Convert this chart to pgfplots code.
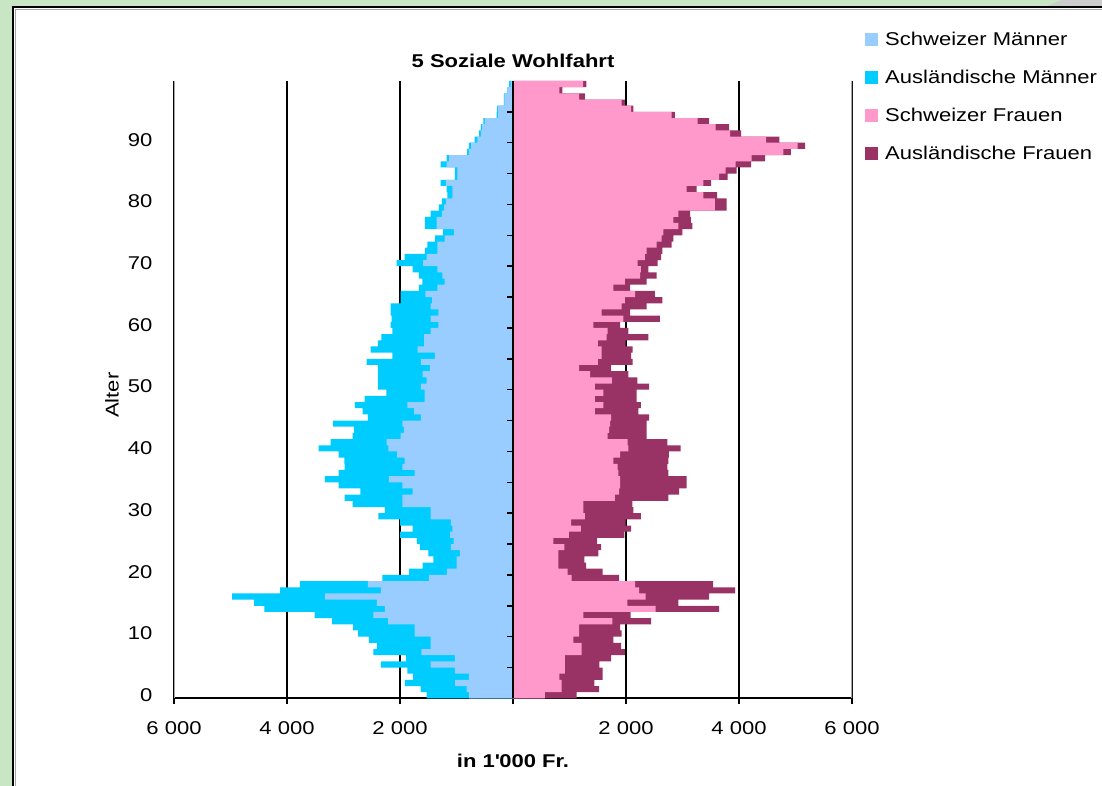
\documentclass[border=0pt]{standalone}
\usepackage{fontspec}
\setmainfont{Liberation Sans}[FakeStretch=1.19]
\usepackage{pgfplots}
\usepackage{pgfplotstable}
\pgfplotsset{compat=1.18}
\definecolor{chm}{HTML}{99CCFF}
\definecolor{ahm}{HTML}{00CCFF}
\definecolor{chf}{HTML}{FF99CC}
\definecolor{ahf}{HTML}{993366}
\definecolor{bggreen}{HTML}{C8E6C4}
\newcommand\fs{\fontsize{18.5}{22}\selectfont}

% age, Swiss men, men total (Swiss+foreign), Swiss women, women total
\pgfplotstableread{
age ms mt ws wt
0 780 1530 566 1127
1 820 1635 861 1522
2 1025 1915 861 1440
3 780 1770 820 1587
4 1030 1870 920 1587
5 1460 2340 920 1528
6 1030 1890 920 1735
7 1620 2470 1215 1982
8 1460 2410 1215 1912
9 1460 2550 1068 1776
10 1740 2740 1168 1923
11 1740 2830 1168 1894
12 2210 3200 1758 2443
13 2470 3510 1245 2083
14 2270 4400 2525 3646
15 2410 4580 2024 2926
16 3330 4970 2348 3469
17 2340 4120 2230 3929
18 2570 3770 2160 3540
19 1490 2310 1038 1876
20 1170 1840 968 1587
21 1000 1600 802 1292
22 1000 1410 802 1263
23 940 1500 802 1510
24 1100 1650 908 1558
25 1050 1700 714 1490
26 1115 2000 990 1970
27 1075 1775 1200 2090
28 1100 2000 1027 1994
29 1460 2385 1274 2265
30 1460 2270 1245 2130
31 1960 2840 1245 2112
32 1960 2980 1805 2750
33 1775 2700 1876 2938
34 1960 3085 1894 3074
35 2195 3330 1894 3074
36 1740 3085 1865 2750
37 1960 2980 1853 2730
38 1920 2985 1776 2750
39 2050 3085 1894 2760
40 2205 3440 2040 2968
41 2235 3230 2030 2730
42 1990 2840 1676 2366
43 1930 2810 1700 2366
44 1960 3190 1717 2366
45 1630 2570 1735 2407
46 1750 2660 1451 2218
47 1870 2800 1600 2265
48 1565 2625 1451 2189
49 1565 2240 1600 2189
50 1630 2390 1451 2407
51 1530 2390 1750 2200
52 1600 2390 1363 2041
53 1470 2390 1168 1735
54 1630 2590 1500 2118
55 1385 2135 1570 2090
56 1690 2520 1570 2118
57 1575 2390 1500 1994
58 1575 2330 1658 2395
59 1460 2135 1676 2041
60 1320 2165 1422 1894
61 1460 2150 1953 2600
62 1320 2165 1570 2071
63 1460 2165 1923 2366
64 1430 1990 1982 2643
65 1550 1990 2160 2513
66 1340 1665 1776 2071
67 1210 1605 1982 2366
68 1250 1665 2248 2543
69 1340 1775 2265 2395
70 1590 2060 2206 2560
71 1530 1920 2336 2620
72 1340 1560 2366 2643
73 1340 1515 2543 2808
74 1210 1380 2630 2838
75 1045 1235 2660 2997
76 1350 1560 2926 3174
77 1350 1560 2838 3150
78 1260 1460 2926 3133
79 1220 1310 3574 3782
80 1190 1260 3574 3782
81 1075 1160 3369 3611
82 1075 1175 3074 3251
83 1190 1280 3369 3505
84 985 1030 3646 3800
85 985 1030 3764 3959
86 1175 1280 3941 4213
87 1130 1175 4224 4460
88 780 810 4785 4920
89 740 780 5039 5168
90 630 680 4478 4714
91 570 600 3841 4036
92 545 570 3587 3823
93 500 525 3269 3469
94 265 290 2808 2867
95 270 280 2089 2130
96 155 160 1923 1982
97 155 160 1168 1274
98 95 100 820 873
99 40 70 1240 1300
}\data

\begin{document}
\begin{tikzpicture}[x=1pt,y=1pt]
\useasboundingbox (0,0) rectangle (1102,786);
\fill[bggreen] (0,0) rectangle (1102,786);
\fill[gray!40] (1045,779) -- (1062,786) -- (1102,786) -- (1102,779) -- cycle;
\fill[white] (13,0) rectangle (1102,779);
\draw[black, line width=2pt] (13,0) -- (13,779) -- (1102,779);
\draw[gray!70, line width=1pt] (15.5,0) -- (15.5,776.5) -- (1102,776.5);

\begin{axis}[
  at={(174pt,87.6pt)}, anchor=south west,
  width=678pt, height=617.4pt, scale only axis,
  xmin=-6000, xmax=6000, ymin=-0.5, ymax=99.5,
  bar width=1,
  axis x line*=bottom, axis y line*=left,
  x axis line style={-, black, line width=1.8pt},
  y axis line style={draw=none},
  xtick={-6000,-4000,-2000,0,2000,4000,6000},
  xticklabels={6 000,4 000,2 000,,2 000,4 000,6 000},
  ytick={0,10,...,90},
  /pgf/number format/assume math mode=true,
  tick align=outside, major tick length=6pt,
  xtick style={black, line width=1.5pt},
  ytick style={draw=none},
  xmajorgrids=true,
  grid style={black, line width=1.8pt},
  tick label style={font=\fs},
  yticklabel style={xshift=-12pt},
  xticklabel style={yshift=-14pt},
  title={\bfseries 5 Soziale Wohlfahrt},
  title style={font=\fs, at={(0.5,1)}, anchor=base, yshift=7pt},
  xlabel={\bfseries in 1\textquotesingle000 Fr.},
  xlabel style={font=\fs, at={(0.5,0)}, anchor=base, yshift=-69pt},
  ylabel={Alter},
  ylabel style={font=\fs, at={(rel axis cs:0,0.491)}, rotate=0, anchor=center, yshift=62pt},
  legend style={at={(1.0192,1.0791)}, anchor=north west, draw=none, fill=none,
    font=\fs, row sep=23pt, column sep=7pt, inner sep=0pt,
    nodes={inner sep=0pt, anchor=west}},
  legend cell align=left,
  legend image code/.code={\fill[#1] (0pt,-6.5pt) rectangle (13pt,6.5pt);},
]
\addplot[xbar, bar shift=0pt, fill=ahm, draw=none, forget plot] table[y=age, x expr=-\thisrow{mt}]{\data};
\addplot[xbar, bar shift=0pt, fill=chm, draw=none, forget plot] table[y=age, x expr=-\thisrow{ms}]{\data};
\addplot[xbar, bar shift=0pt, fill=ahf, draw=none, forget plot] table[y=age, x=wt]{\data};
\addplot[xbar, bar shift=0pt, fill=chf, draw=none, forget plot] table[y=age, x=ws]{\data};

\addlegendimage{fill=chm, draw=none}
\addlegendentry{Schweizer Männer}
\addlegendimage{fill=ahm, draw=none}
\addlegendentry{Ausländische Männer}
\addlegendimage{fill=chf, draw=none}
\addlegendentry{Schweizer Frauen}
\addlegendimage{fill=ahf, draw=none}
\addlegendentry{Ausländische Frauen}

\draw[gray!70, line width=1.8pt] (axis cs:-6000,-0.5) -- (axis cs:-6000,99.5);
\draw[gray!70, line width=1.8pt] (axis cs:6000,-0.5) -- (axis cs:6000,99.5);
\draw[black, line width=1.8pt] (axis cs:0,-0.5) -- (axis cs:0,99.5);
\pgfplotsinvokeforeach{4.5,9.5,...,94.5}{
  \draw[black, line width=1.5pt] (axis cs:0,#1) -- ([xshift=-6pt]axis cs:0,#1);
}
\end{axis}
\end{tikzpicture}
\end{document}
